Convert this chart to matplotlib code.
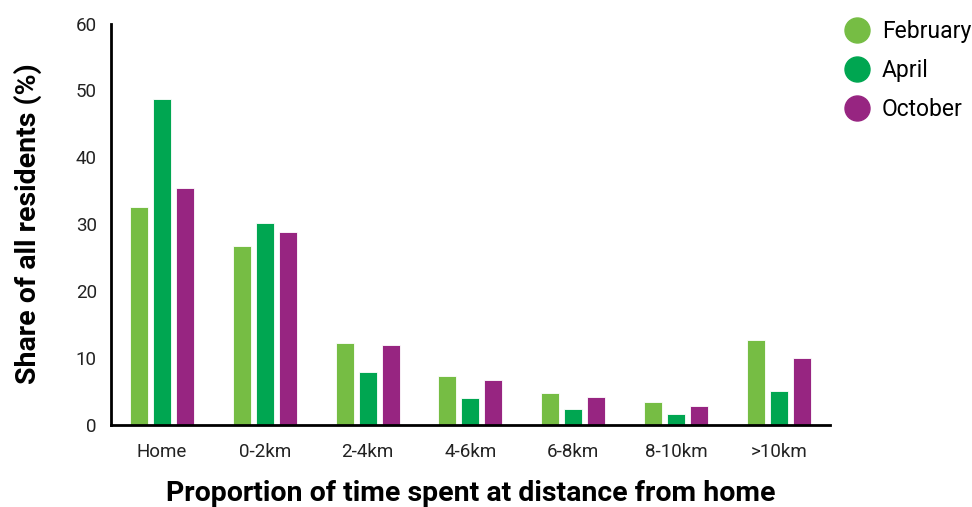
import numpy as np
import matplotlib.pyplot as plt
from matplotlib.lines import Line2D

plt.rcParams['font.family'] = ['Roboto', 'DejaVu Sans']

categories = ['Home', '0-2km', '2-4km', '4-6km', '6-8km', '8-10km', '>10km']
february = [32.6, 26.7, 12.2, 7.3, 4.7, 3.3, 12.6]
april = [48.7, 30.1, 7.8, 3.9, 2.3, 1.5, 5.0]
october = [35.4, 28.8, 11.9, 6.6, 4.1, 2.7, 10.0]

series = [('February', february, '#76bd44'),
          ('April', april, '#00a651'),
          ('October', october, '#972581')]

fig = plt.figure(figsize=(9.72, 5.07), dpi=100)
ax = fig.add_axes([0.1139, 0.1627, 0.7401, 0.7909])

x = np.arange(len(categories))
w = 0.175
step = 0.223
for i, (name, vals, col) in enumerate(series):
    ax.bar(x + (i - 1) * step, vals, width=w, color=col,
           edgecolor='white', linewidth=0.6, label=name, zorder=2)

ax.set_xlim(-0.5, 6.5)
ax.set_ylim(0, 60)
ax.set_yticks(range(0, 61, 10))
ax.set_xticks(x)
ax.set_xticklabels(categories)
ax.tick_params(axis='both', length=0, labelsize=13.5, colors='#222222')
ax.tick_params(axis='x', pad=13)
ax.tick_params(axis='y', pad=10)

for s in ['top', 'right']:
    ax.spines[s].set_visible(False)
for s in ['left', 'bottom']:
    ax.spines[s].set_linewidth(2)
    ax.spines[s].set_color('black')

ax.set_ylabel('Share of all residents (%)', fontsize=20.5, fontweight='bold', labelpad=24)
ax.set_xlabel('Proportion of time spent at distance from home', fontsize=20.5,
              fontweight='bold', labelpad=14)

handles = [Line2D([], [], marker='o', linestyle='', markersize=18,
                  markerfacecolor=c, markeredgecolor=c) for _, _, c in series]
fig.legend(handles, [n for n, _, _ in series], loc='upper left',
           bbox_to_anchor=(0.858, 0.979), frameon=False, fontsize=16.5,
           handlelength=1.2, handletextpad=0.5, labelspacing=0.7,
           borderaxespad=0)

fig.savefig('out.png', dpi=100)
